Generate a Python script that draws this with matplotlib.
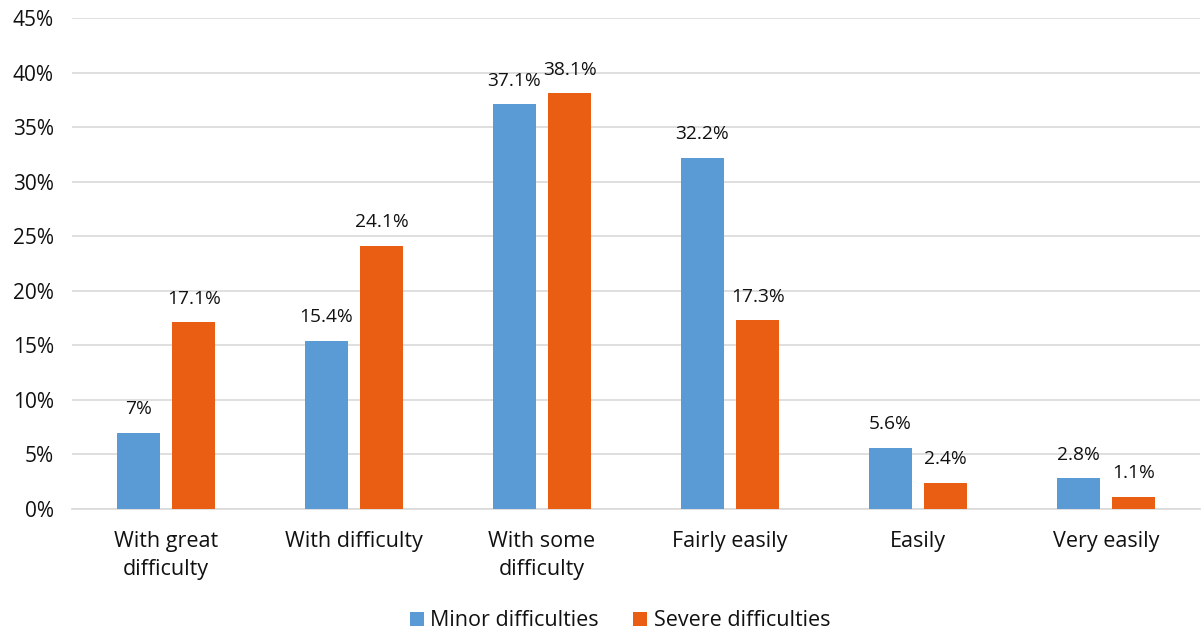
import matplotlib
matplotlib.use("Agg")
import matplotlib.pyplot as plt
import numpy as np

categories = ["With great\ndifficulty", "With difficulty", "With some\ndifficulty",
              "Fairly easily", "Easily", "Very easily"]
minor = [7.0, 15.4, 37.1, 32.2, 5.6, 2.8]
severe = [17.1, 24.1, 38.1, 17.3, 2.4, 1.1]
minor_labels = ["7%", "15.4%", "37.1%", "32.2%", "5.6%", "2.8%"]
severe_labels = ["17.1%", "24.1%", "38.1%", "17.3%", "2.4%", "1.1%"]
series_names = ["Minor difficulties", "Severe difficulties"]

plt.rcParams['font.family'] = ['Open Sans', 'DejaVu Sans']
text_color = "#111111"

fig = plt.figure(figsize=(12.04, 6.33), dpi=100)
ax = fig.add_axes([72 / 1204, 1 - 509 / 633, 1128 / 1204, 491 / 633])

x = np.arange(len(categories))
w = 0.23
gap = 0.065
off = (w + gap) / 2
b1 = ax.bar(x - off, minor, w, color="#5B9BD5", label=series_names[0], zorder=3)
b2 = ax.bar(x + off, severe, w, color="#E95E12", label=series_names[1], zorder=3)

for bars, labels in ((b1, minor_labels), (b2, severe_labels)):
    for rect, lab in zip(bars, labels):
        ax.annotate(lab, (rect.get_x() + rect.get_width() / 2, rect.get_height()),
                    xytext=(0, 10.5), textcoords="offset points", ha="center", va="bottom",
                    fontsize=13.8, color=text_color)

ax.set_xlim(-0.5, len(categories) - 0.5)
ax.set_ylim(0, 45)
ax.set_yticks(np.arange(0, 46, 5))
ax.set_yticklabels([f"{v}%" for v in range(0, 46, 5)], fontsize=15, color=text_color)
ax.set_xticks(x)
ax.set_xticklabels(categories, fontsize=15.5, color=text_color, linespacing=1.45, va="top")
ax.tick_params(axis="both", length=0)
ax.tick_params(axis="y", pad=13)
ax.tick_params(axis="x", pad=15.5)
ax.grid(axis="y", color="#D9D9D9", linewidth=1.2, zorder=0)
for s in ("top", "right", "left"):
    ax.spines[s].set_visible(False)
ax.spines["bottom"].set_color("#D9D9D9")
ax.spines["bottom"].set_linewidth(1.2)

fig.legend(handles=[b1, b2], labels=series_names, loc="center", bbox_to_anchor=(0.515, 1 - 621 / 633),
           ncol=2, frameon=False, fontsize=15.5, handlelength=0.65, handleheight=0.65,
           handletextpad=0.3, columnspacing=1.6, labelcolor=text_color)

fig.savefig("out.png", dpi=100)
